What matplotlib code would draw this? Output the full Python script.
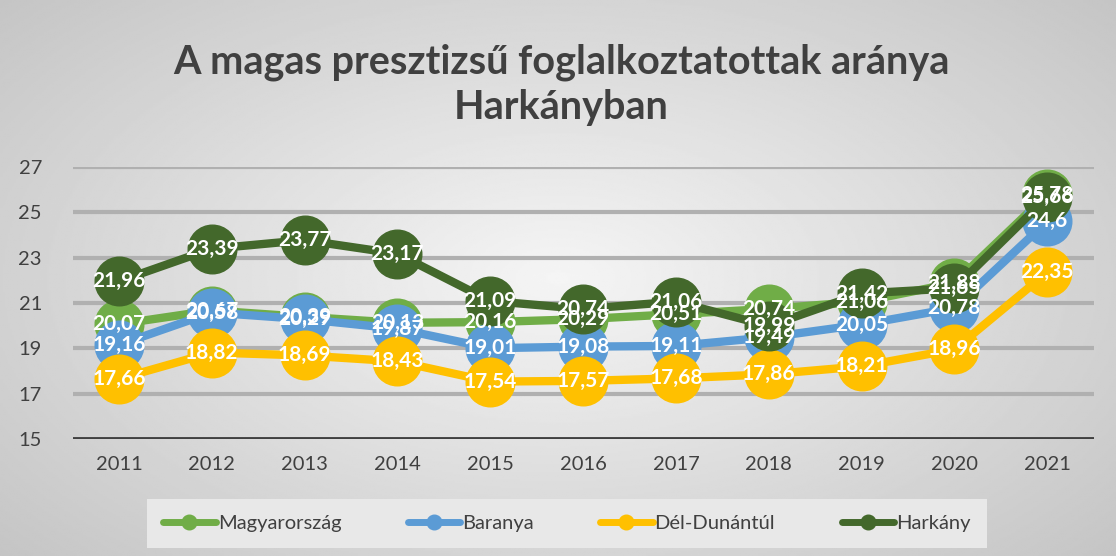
import matplotlib.pyplot as plt
import numpy as np

years = ["2011", "2012", "2013", "2014", "2015", "2016", "2017", "2018", "2019", "2020", "2021"]
magyarorszag = [20.07, 20.67, 20.39, 20.13, 20.16, 20.29, 20.51, 20.74, 21.06, 21.88, 25.78]
baranya = [19.16, 20.58, 20.29, 19.87, 19.01, 19.08, 19.11, 19.49, 20.05, 20.78, 24.6]
del_dunantul = [17.66, 18.82, 18.69, 18.43, 17.54, 17.57, 17.68, 17.86, 18.21, 18.96, 22.35]
harkany = [21.96, 23.39, 23.77, 23.17, 21.09, 20.74, 21.06, 19.99, 21.42, 21.65, 25.66]

series = [
    ("Magyarország", magyarorszag, "#70ad47"),
    ("Baranya", baranya, "#5b9bd5"),
    ("Dél-Dunántúl", del_dunantul, "#ffc000"),
    ("Harkány", harkany, "#43682b"),
]
yticks = [15, 17, 19, 21, 23, 25, 27]

plt.rcParams['font.family'] = ['Lato', 'DejaVu Sans']

fig = plt.figure(figsize=(11.16, 5.56), dpi=100)

# radial grey background, light in the middle
bg = fig.add_axes([0, 0, 1, 1], zorder=-10)
yy, xx = np.mgrid[-1:1:300j, -1:1:600j]
r = np.sqrt(xx**2 + (yy * 0.9)**2)
shade = np.clip(0.96 - 0.14 * r, 0, 1)
bg.imshow(shade, cmap="gray", vmin=0, vmax=1, aspect="auto", extent=[0, 1, 0, 1])
bg.axis("off")

ax = fig.add_axes([0.065, 0.21, 0.915, 0.49])
ax.patch.set_alpha(0)
x = np.arange(len(years))

for name, vals, col in series:
    ax.plot(x, vals, color=col, lw=6, marker="o", ms=35, label=name,
            solid_capstyle="round", clip_on=False)
for name, vals, col in series:
    for xi, v in zip(x, vals):
        ax.text(xi, v, f"{v:g}".replace(".", ","), ha="center", va="center",
                color="white", fontsize=15, fontweight="bold", zorder=5)

ax.set_xlim(-0.5, len(years) - 0.5)
ax.set_ylim(15, 27)
ax.set_yticks(yticks)
ax.set_xticks(x)
ax.set_xticklabels(years)
ax.tick_params(length=0, labelsize=14.5, colors="#404040", pad=12)
ax.tick_params(axis="y", pad=22)
for yv in yticks[1:]:
    ax.axhline(yv, color="#b0b0b0", lw=3, zorder=0)
for s in ax.spines.values():
    s.set_visible(False)
ax.axhline(15, color="#404040", lw=3.5, zorder=1)

fig.text(0.503, 0.848, "A magas presztizsű foglalkoztatottak aránya\nHarkányban",
         ha="center", va="center", fontsize=28.5, fontweight="bold", color="#404040",
         linespacing=1.25)

leg = fig.legend(loc="center", bbox_to_anchor=(0.508, 0.058), ncol=4, frameon=True,
                 fontsize=14.5, markerscale=0.3, handlelength=2.6, columnspacing=3.3,
                 handletextpad=0.1, borderpad=0.6)
leg.get_frame().set_facecolor("#e8e8e8")
leg.get_frame().set_edgecolor("none")
leg.get_frame().set_alpha(1)
leg.get_frame().set_boxstyle("square", pad=0.2)
for t in leg.get_texts():
    t.set_color("#404040")
for h in leg.get_lines():
    h.set_linewidth(5)

fig.savefig("out.png", dpi=100)
